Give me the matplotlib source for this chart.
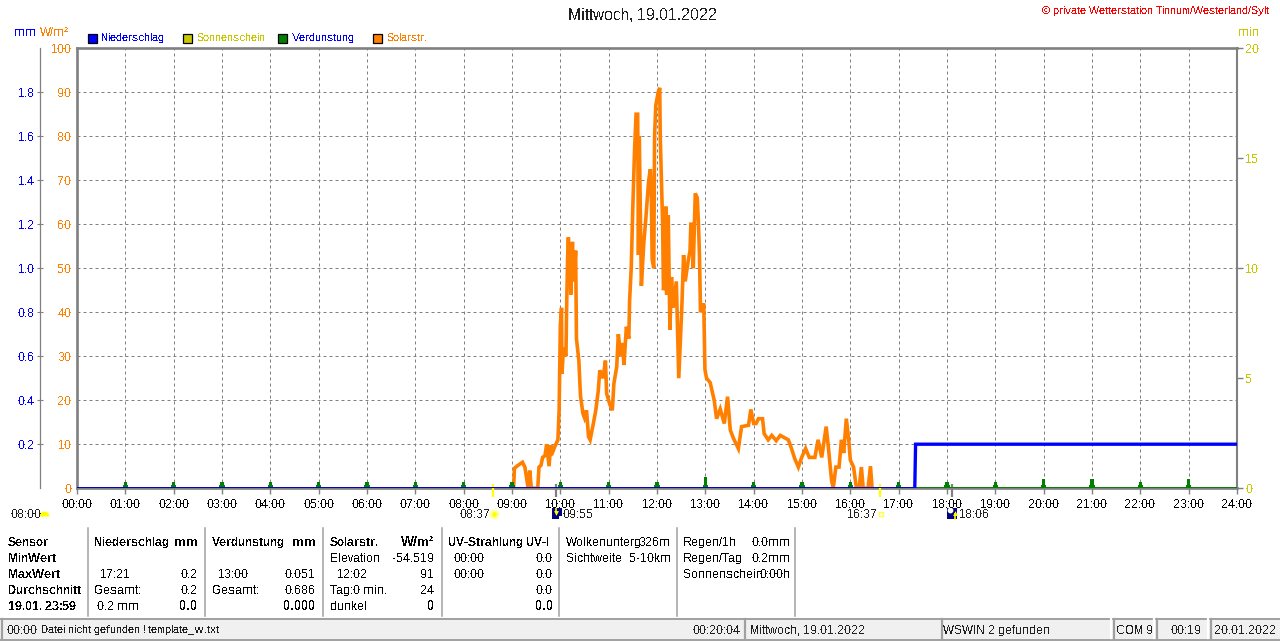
import matplotlib
matplotlib.use('Agg')
import matplotlib.pyplot as plt
from matplotlib.patches import Rectangle, Wedge

plt.rcParams['font.family'] = ['Liberation Sans', 'DejaVu Sans']
plt.rcParams['text.antialiased'] = False
plt.rcParams['text.hinting'] = 'native'
plt.rcParams['text.hinting_factor'] = 1

# Solar radiation, minutes of the day and W/m2
solar_t = [542, 543, 546, 553, 556, 558, 560, 562, 564, 572, 573.5, 576, 578, 581, 583, 586, 588, 589, 593,
           597, 598.5, 600, 601.5, 602, 604, 607, 607.7, 609, 610, 611, 612, 613, 615, 617, 619, 620, 623, 625,
           628, 630, 632.5, 635, 637, 641, 644, 647, 649, 653, 656, 657.5, 661.5, 664.5, 666.5, 670, 672, 675,
           677, 679, 682, 685, 686, 688, 690, 692, 694, 696, 697, 698, 700.6, 703.6, 706, 708, 709.7, 711.8,
           713, 714, 716, 717, 718.5, 721.5, 723.4, 724, 725.5, 727, 728, 730, 731, 732, 734, 736, 738, 740,
           744, 747, 749.5, 751, 753, 755, 758.6, 761, 762, 764.5, 765, 767.5, 770, 771.5, 772.7, 774, 776,
           778, 779.5, 781.5, 786, 791, 794, 798.5, 803.5, 807.6, 811, 815, 821, 825, 833.6, 836.5, 840, 843,
           846, 851, 853, 858, 862.5, 868, 873, 883, 887, 891, 895.5, 899.6, 904.5, 909, 916, 920, 924.5, 930,
           932.7, 936.7, 938.8, 942, 946, 949, 951.8, 955, 958, 960, 964, 967.6, 971, 973.7, 976, 982, 985, 987]
solar_v = [0, 4.5, 5, 5.9, 4.8, 2.5, 0, 4, 0, 0, 4.8, 5.2, 7, 7.4, 10, 5, 9.8, 7.5, 9.4,
           11, 17.7, 37, 41, 26, 32, 30, 40, 52, 57, 50, 55, 44, 56, 47, 54, 34, 29, 21,
           17, 16, 17.7, 11.7, 11, 14.7, 17.7, 22, 26.8, 25, 29, 21.5, 19, 17.7, 23.8, 27.6, 35, 30,
           33, 28, 36.7, 34, 42.7, 50, 64, 76, 85, 85, 53, 80, 46, 55.7, 61, 66, 70, 72.5,
           66, 52, 50, 80, 87, 90, 91, 80, 70, 60, 45, 47, 64, 44, 62, 36, 48, 41,
           47, 25, 36, 42, 53, 47, 51.5, 54, 60, 60, 50, 67, 66, 60, 53, 40, 41,
           42, 27, 25, 24, 20, 15.8, 18, 14.7, 20.8, 13.2, 11.3, 9, 14, 14.3, 17.9, 14.7, 14.7,
           15.8, 15.8, 12.4, 11, 12, 10.8, 12, 11, 9, 6.7, 4.8, 7, 9, 7, 7, 11, 7, 14,
           9.4, 1.8, 0, 4.8, 4.8, 11, 8, 15.8, 11, 6.4, 4.8, 0, 0, 4.8, 0, 0, 5, 0]

# Precipitation in mm
rain_t = [0, 1040, 1041, 1440]
rain_v = [0, 0, 0.2, 0.2]

# Evaporation per hour in mm
evap_t = [60, 120, 180, 240, 300, 360, 420, 480, 540, 600, 660, 720, 780, 840, 900, 960, 1020, 1080, 1140, 1200, 1260, 1320, 1380]
evap_v = [0.026, 0.026, 0.026, 0.026, 0.026, 0.026, 0.026, 0.026, 0.03, 0.03, 0.03, 0.03, 0.051, 0.03, 0.03, 0.026, 0.026, 0.026, 0.026, 0.043, 0.043, 0.026, 0.043]

hour_labels = ['%02d:00' % h for h in range(25)]
mm_ticks = [0.2, 0.4, 0.6, 0.8, 1.0, 1.2, 1.4, 1.6, 1.8]
wm_ticks = [0, 10, 20, 30, 40, 50, 60, 70, 80, 90, 100]
min_ticks = [0, 5, 10, 15, 20]

sun_times = [517, 997]
moon_times = [595, 1086]

row_y = [542, 558, 574, 590, 606]
panel_left = [
    (8, ['Sensor', 'MinWert', 'MaxWert', 'Durchschnitt', '19.01. 23:59'], True),
    (94, ['Niederschlag', '', '', '', ''], True),
    (100, ['', '', '17:21', '', ''], False),
    (94, ['', '', '', 'Gesamt:', ''], False),
    (97, ['', '', '', '', '0.2 mm'], False),
    (212, ['Verdunstung', '', '', '', ''], True),
    (218, ['', '', '13:00', '', ''], False),
    (212, ['', '', '', 'Gesamt:', ''], False),
    (330, ['Solarstr.', '', '', '', ''], True),
    (330, ['', 'Elevation', '', 'Tag:0 min.', 'dunkel'], False),
    (337, ['', '', '12:02', '', ''], False),
    (448, ['UV-Strahlung UV-I', '', '', '', ''], True),
    (454, ['', '00:00', '00:00', '', ''], False),
    (566, ['Wolkenunterg', 'Sichtweite', '', '', ''], False),
    (683, ['Regen/1h', 'Regen/Tag', 'Sonnenschein', '', ''], False),
]
panel_right = [
    (198, ['mm', '', '', '', '0.0'], [True, False, False, False, True]),
    (198, ['', '', '0.2', '0.2', ''], [False] * 5),
    (316, ['mm', '', '', '', '0.000'], [True, False, False, False, True]),
    (316, ['', '', '0.051', '0.686', ''], [False] * 5),
    (434, ['W/m²', '', '', '', '0'], [True, False, False, False, True]),
    (434, ['', '-54.519', '91', '24', ''], [False] * 5),
    (553, ['', '0.0', '0.0', '0.0', ''], [False] * 5),
    (553, ['', '', '', '', '0.0'], [False, False, False, False, True]),
    (671, ['326m', '5-10km', '', '', ''], [False] * 5),
    (791, ['0.0mm', '0.2mm', '0:00h', '', ''], [False] * 5),
]

W, H = 1280, 641
GRAY = '#808080'
BLUE = '#0000ff'
ORANGE = '#ff8000'
OLIVE = '#c8c800'
GREEN = '#008000'

fig = plt.figure(figsize=(W / 100, H / 100), dpi=100, facecolor='white')

# overlay in pixel coordinates for everything outside the plot
ov = fig.add_axes([0, 0, 1, 1])
ov.set_xlim(0, W)
ov.set_ylim(H, 0)
ov.axis('off')

ax = fig.add_axes([77 / W, 1 - 488.2 / H, 1160 / W, 440 / H], zorder=3)
ax.set_facecolor('none')
ax.set_xlim(0, 1440)
ax.set_ylim(0, 100)
ax.set_xticks(range(0, 1441, 60))
ax.set_xticklabels(hour_labels, fontsize=8.6, color='black')
ax.set_yticks(wm_ticks)
ax.set_yticklabels(wm_ticks, fontsize=8.6, color=ORANGE)
ax.tick_params(axis='x', length=4, width=1, color=GRAY, pad=3.5)
ax.tick_params(axis='y', length=0, pad=4)
ax.grid(True, color=GRAY, linestyle=(0, (3, 3)), linewidth=0.72)
ax.set_axisbelow(True)
for s in ['left', 'bottom', 'top']:
    ax.spines[s].set_color(GRAY)
    ax.spines[s].set_linewidth(1.9)
ax.spines['right'].set_color(GRAY)
ax.spines['right'].set_linewidth(1.5)

ax.plot(solar_t, solar_v, color=ORANGE, linewidth=2.6, solid_joinstyle='miter', zorder=3)

# mm axis, same plot area, spine moved to the far left
ax_mm = ax.twinx()
ax_mm.set_ylim(0, 2)
ax_mm.yaxis.set_ticks_position('left')
ax_mm.yaxis.set_label_position('left')
ax_mm.spines['left'].set_position(('outward', 26.3))
ax_mm.spines['left'].set_color(GRAY)
ax_mm.spines['left'].set_linewidth(0.9)
for s in ['right', 'top', 'bottom']:
    ax_mm.spines[s].set_visible(False)
ax_mm.set_yticks(mm_ticks)
ax_mm.set_yticklabels(['%.1f' % v for v in mm_ticks], fontsize=8.6, color=BLUE)
ax_mm.tick_params(axis='y', direction='inout', length=5, width=0.8, color=GRAY, pad=1.5)
ax_mm.bar(evap_t, evap_v, width=4.2, color=GREEN, zorder=4)
ax_mm.bar(evap_t, [min(v, 0.014) for v in evap_v], width=7, color=GREEN, zorder=4)
ax_mm.plot(rain_t[:2], rain_v[:2], color='#0000c0', linewidth=1.4, zorder=5)
ax_mm.plot(rain_t[2:], rain_v[:2], color=GREEN, linewidth=1.4, zorder=5)
ax_mm.plot(rain_t[1:], rain_v[1:], color=BLUE, linewidth=2.4, solid_joinstyle='miter', zorder=6)

# minutes axis on the right
ax_min = ax.twinx()
ax_min.set_ylim(0, 20)
ax_min.set_yticks(min_ticks)
ax_min.set_yticklabels(min_ticks, fontsize=8.6, color=OLIVE)
ax_min.tick_params(axis='y', length=4, width=1, color=GRAY, pad=2)
for s in ['left', 'top', 'bottom', 'right']:
    ax_min.spines[s].set_visible(False)

# sunrise/sunset and moon ticks under the base line
ax.vlines(sun_times, -2.0, 0.9, color='#ffff00', linewidth=1.6, clip_on=False, zorder=7)
ax.vlines(moon_times, -2.0, 0.9, color=GRAY, linewidth=1.6, clip_on=False, zorder=7)

# header
ov.text(643, 15, 'Mittwoch, 19.01.2022', fontsize=11.6, ha='center', va='center', color='#202020')
ov.text(1269, 11.5, '© private Wetterstation Tinnum/Westerland/Sylt', fontsize=8.0, ha='right', va='center', color='#ff0000')
ov.text(14, 33, 'mm', fontsize=8.4, va='center', color=BLUE)
ov.text(40, 33, 'W/m²', fontsize=8.4, va='center', color=ORANGE)
ov.text(1238, 33, 'min', fontsize=8.4, va='center', color=OLIVE)

# legend
legend_names = ['Niederschlag', 'Sonnenschein', 'Verdunstung', 'Solarstr.']
legend_box = [BLUE, OLIVE, GREEN, ORANGE]
legend_text = [BLUE, OLIVE, BLUE, ORANGE]
for i in range(4):
    x0 = 87.5 + 95 * i
    ov.add_patch(Rectangle((x0, 33.5), 9, 9, facecolor=legend_box[i], edgecolor='black', linewidth=0.9))
    ov.text(x0 + 14, 38, legend_names[i], fontsize=8.2, va='center', color=legend_text[i])

# sun and moon times under the axis
ov.text(11, 514, '08:00', fontsize=8.6, va='center', color='#202020')
ov.add_patch(Wedge((44.5, 516.5), 5, 180, 360, facecolor='#ffff00', edgecolor='none'))
ov.text(460, 514, '08:37', fontsize=8.6, va='center', color='#202020')
ov.scatter([494], [514], s=28, color='#ffff00', edgecolor='#ffffa0', linewidth=1.8, zorder=3)
ov.add_patch(Rectangle((552, 508), 10, 11, facecolor='#000080', edgecolor='none'))
ov.add_patch(Rectangle((559, 516), 3, 3, facecolor='white', edgecolor='none'))
ov.plot([555.5, 555.5], [508, 512], color='#ffff00', linewidth=1.2)
ov.plot([555.5], [513], marker='v', markersize=3.5, color='#ffff00', markeredgewidth=0)
ov.text(563, 514, '09:55', fontsize=8.6, va='center', color='#202020')
ov.text(847, 514, '16:37', fontsize=8.6, va='center', color='#202020')
ov.add_patch(Rectangle((878.5, 511.5), 4.5, 4.5, facecolor='none', edgecolor='#ffff40', linewidth=1))
ov.add_patch(Rectangle((947, 508), 10, 11, facecolor='#000080', edgecolor='none'))
ov.plot([954.5, 954.5], [514, 519], color='#ffff00', linewidth=1.2)
ov.plot([954.5], [513], marker='^', markersize=3.5, color='#ffff00', markeredgewidth=0)
ov.scatter([950], [510], s=10, color='white', zorder=3)
ov.text(959, 514, '18:06', fontsize=8.6, va='center', color='#202020')

# statistics panel
for x in [88, 205, 323, 442, 559, 677, 795]:
    ov.plot([x, x], [528, 616], color='#a0a0a0', linewidth=1.1)
for x, rows, bold in panel_left:
    for y, s in zip(row_y, rows):
        if s:
            ov.text(x, y, s, fontsize=8.3, va='center', color='black', fontweight='bold' if bold else 'normal')
for x, rows, bolds in panel_right:
    for y, s, b in zip(row_y, rows, bolds):
        if s:
            ov.text(x, y, s, fontsize=9.2 if b else 8.3, va='center', ha='right', color='black', fontweight='bold' if b else 'normal')

# status bar
ov.add_patch(Rectangle((0, 618), W, 21, facecolor='#f0f0f0', edgecolor='none'))
ov.plot([0, W], [618.5, 618.5], color='#a0a0a0', linewidth=1.4)
ov.plot([0, W], [640, 640], color='#a0a0a0', linewidth=1.4)
for x in [2, 745, 942, 1114, 1157, 1211]:
    ov.plot([x, x], [619, 638], color='#a0a0a0', linewidth=1.6)
for x in [1113, 1156, 1210]:
    ov.plot([x - 2, x - 2], [619, 638], color='white', linewidth=1.6)
ov.text(7, 630, '00:00', fontsize=8.3, va='center', color='#202020')
ov.text(41, 630, 'Datei nicht gefunden ! template_w.txt', fontsize=8.0, va='center', color='#202020')
ov.text(741, 630, '00:20:04', fontsize=8.3, va='center', ha='right', color='#202020')
ov.text(750, 630, 'Mittwoch, 19.01.2022', fontsize=8.3, va='center', color='#202020')
ov.text(943, 630, 'WSWIN 2 gefunden', fontsize=8.3, va='center', color='#202020')
ov.text(1135, 630, 'COM 9', fontsize=8.3, va='center', ha='center', color='#202020')
ov.text(1186, 630, '00:19', fontsize=8.3, va='center', ha='center', color='#202020')
ov.text(1245, 630, '20.01.2022', fontsize=8.3, va='center', ha='center', color='#202020')

fig.savefig('out.png', dpi=100)
